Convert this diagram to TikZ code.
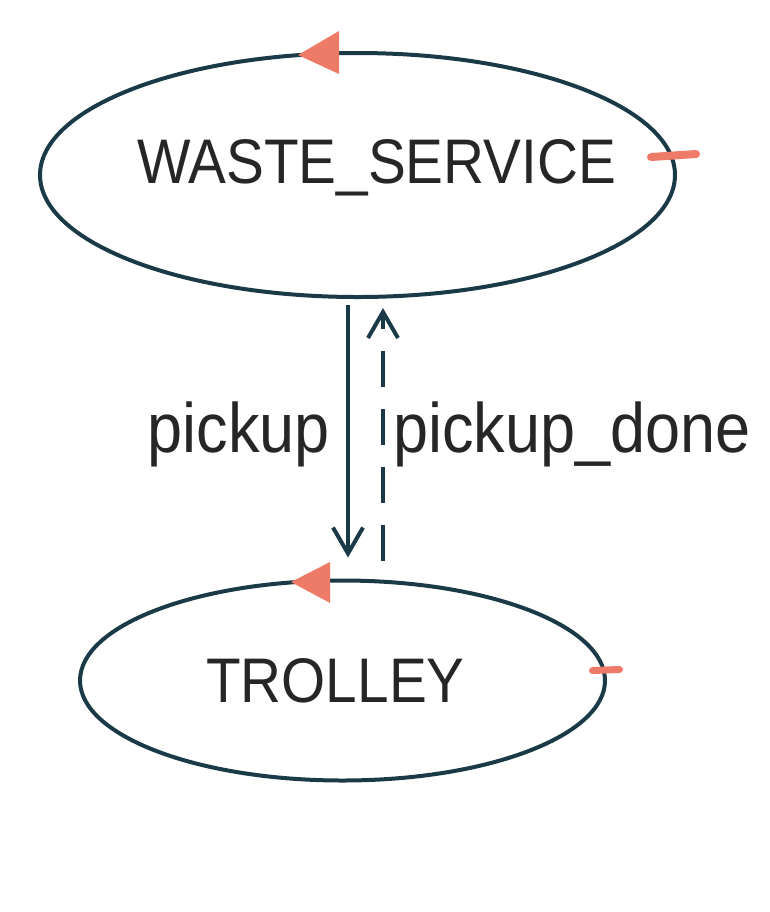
\documentclass[tikz,border=0pt]{standalone}
\usepackage{fontspec}
\setmainfont{Liberation Sans}[FakeStretch=0.9]
\usetikzlibrary{shapes.geometric,arrows.meta,calc}
\definecolor{edgeteal}{HTML}{1B3A48}
\definecolor{markred}{HTML}{EE7A68}
\definecolor{inkgray}{HTML}{262626}
\tikzset{
  statering/.style={draw=edgeteal, line width=2pt, ellipse, inner sep=0pt, outer sep=0pt},
  statename/.style={text=inkgray, font=\fontsize{31.5}{36}\selectfont, anchor=base, inner sep=0pt},
  msglabel/.style={text=inkgray, font=\fontsize{35}{40}\selectfont, inner sep=0pt},
  msgarrow/.style={draw=edgeteal, line width=2pt, -{Straight Barb[length=13pt,width=15pt]}},
  turntip/.style={fill=markred},
  ticktip/.style={draw=markred, line width=4pt, line cap=round},
}

\begin{document}
\begin{tikzpicture}[x=0.5pt, y=-0.5pt]
  \useasboundingbox (0,0) rectangle (770,912);

  % States
  \node[statering, minimum width=317.5pt, minimum height=122pt] (waste) at (357.5,175) {};
  \node[statering, minimum width=262.5pt, minimum height=100pt] (trolley) at (342.5,680.5) {};
  \node[statename] (wasteName) at (376.5,183) {WASTE\_SERVICE};
  \node[statename] (trolleyName) at (335.5,702) {TROLLEY};

  % Direction markers on the state outlines
  \fill[turntip] ($(waste.north)+(-59.5,2)$) -- ($(waste.north)+(-18.5,-22)$) -- ($(waste.north)+(-18.5,21)$) -- cycle;
  \fill[turntip] ($(trolley.north)+(-51.5,1.5)$) -- ($(trolley.north)+(-12.5,-18.5)$) -- ($(trolley.north)+(-12.5,22.5)$) -- cycle;
  \draw[ticktip] ($(waste.east)+(-24,-18)$) -- ($(waste.east)+(21,-21)$);
  \draw[ticktip, line width=3.5pt] ($(trolley.east)+(-12.5,-10)$) -- ($(trolley.east)+(14.5,-11)$);

  % Messages
  \coordinate (pickupTop) at ([xshift=-4.75pt]waste.south);
  \coordinate (pickupEnd) at (pickupTop |- trolley.north);
  \coordinate (doneTop) at ([xshift=12.75pt]waste.south);
  \coordinate (doneStart) at (doneTop |- trolley.north);

  \draw[msgarrow, shorten <=4pt, shorten >=11.5pt] (pickupTop) -- (pickupEnd)
    node[msglabel, midway, anchor=east, xshift=-8pt, yshift=2pt] (pickupLbl) {pickup};
  \draw[msgarrow, dash pattern=on 18pt off 11pt, shorten <=10pt, shorten >=5.5pt] (doneStart) -- (doneTop)
    node[msglabel, midway, anchor=west, xshift=4pt, yshift=2pt] (doneLbl) {pickup\_done};
\end{tikzpicture}
\end{document}
